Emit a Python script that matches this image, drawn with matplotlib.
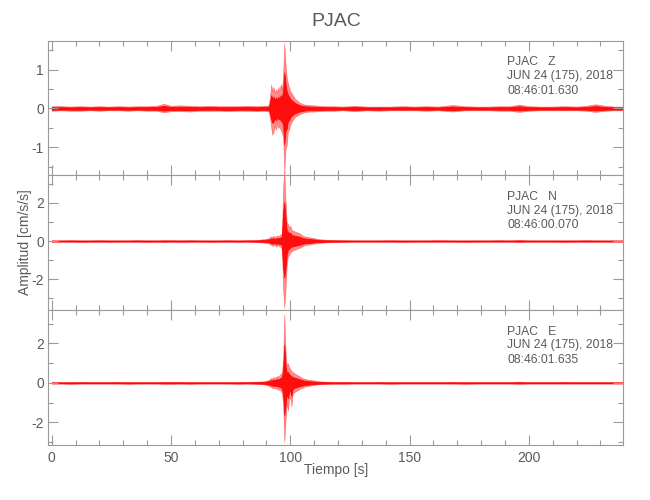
import numpy as np
import matplotlib
matplotlib.use("Agg")
import matplotlib.pyplot as plt
from matplotlib.ticker import MultipleLocator

# --- DATOS (envolvente leida del sismograma) ---
# instantes (s) donde se leyo la envolvente
T_KNOTS = [0, 4, 8, 12, 16, 20, 24, 28, 32, 36, 40, 44, 47, 50, 54, 58, 62, 66, 70, 74, 78, 82, 86, 89,
           91, 91.5, 92, 92.5, 93, 93.5, 94, 94.5, 95, 95.5, 96, 96.5, 97, 97.5, 98, 98.5, 99, 99.5, 100, 100.5, 101,
           102, 103, 104, 105, 106, 108, 110, 112, 115, 118, 122,
           127, 132, 137, 142, 147, 152, 157, 162, 168, 173, 178, 183, 188, 192, 196, 200, 205, 210, 215, 220,
           224, 228, 232, 236, 239.5]

# componente Z (cm/s/s)
Z_HI = [0.06, 0.06, 0.05, 0.06, 0.05, 0.06, 0.05, 0.06, 0.05, 0.06, 0.06, 0.07, 0.12, 0.07, 0.08, 0.07, 0.06, 0.07, 0.06, 0.06, 0.06, 0.07, 0.06, 0.07,
        0.08, 0.30, 0.62, 0.45, 0.55, 0.40, 0.50, 0.42, 0.55, 0.45, 0.62, 0.50, 0.85, 1.68, 1.15, 0.80, 0.65, 0.55, 0.45, 0.40, 0.35,
        0.25, 0.20, 0.15, 0.12, 0.10, 0.09, 0.08, 0.07, 0.06, 0.06, 0.05,
        0.07, 0.05, 0.05, 0.05, 0.06, 0.05, 0.06, 0.05, 0.09, 0.06, 0.05, 0.05, 0.06, 0.06, 0.10, 0.06, 0.05, 0.05, 0.06, 0.05,
        0.07, 0.11, 0.07, 0.05, 0.05]
Z_LO = [-0.06, -0.05, -0.06, -0.06, -0.05, -0.06, -0.05, -0.05, -0.06, -0.05, -0.06, -0.06, -0.10, -0.07, -0.07, -0.08, -0.06, -0.06, -0.06, -0.07, -0.06, -0.06, -0.07, -0.06,
        -0.08, -0.25, -0.50, -0.68, -0.60, -0.45, -0.55, -0.40, -0.50, -0.48, -0.55, -0.62, -0.75, -1.66, -1.05, -0.95, -0.60, -0.55, -0.42, -0.35, -0.30,
        -0.22, -0.18, -0.14, -0.12, -0.10, -0.08, -0.08, -0.07, -0.06, -0.06, -0.05,
        -0.07, -0.05, -0.06, -0.05, -0.05, -0.05, -0.06, -0.05, -0.08, -0.05, -0.05, -0.05, -0.06, -0.06, -0.09, -0.06, -0.05, -0.05, -0.05, -0.05,
        -0.06, -0.09, -0.06, -0.05, -0.05]

# componente N
N_HI = [0.04, 0.04, 0.05, 0.04, 0.04, 0.05, 0.04, 0.04, 0.04, 0.05, 0.04, 0.04, 0.05, 0.05, 0.04, 0.05, 0.04, 0.04, 0.04, 0.05, 0.04, 0.05, 0.06, 0.10,
        0.15, 0.20, 0.25, 0.22, 0.28, 0.20, 0.25, 0.30, 0.25, 0.30, 0.35, 0.40, 2.80, 3.70, 2.20, 1.00, 0.90, 0.70, 0.80, 0.60, 0.55,
        0.50, 0.45, 0.40, 0.30, 0.25, 0.20, 0.15, 0.10, 0.07, 0.06, 0.05,
        0.04, 0.04, 0.04, 0.05, 0.04, 0.04, 0.04, 0.05, 0.04, 0.04, 0.04, 0.04, 0.05, 0.04, 0.06, 0.04, 0.04, 0.04, 0.04, 0.04,
        0.05, 0.04, 0.04, 0.04, 0.04]
N_LO = [-0.04, -0.04, -0.04, -0.05, -0.04, -0.04, -0.05, -0.04, -0.04, -0.04, -0.05, -0.04, -0.05, -0.04, -0.05, -0.04, -0.04, -0.05, -0.04, -0.04, -0.05, -0.04, -0.06, -0.08,
        -0.12, -0.18, -0.20, -0.25, -0.22, -0.20, -0.28, -0.25, -0.22, -0.30, -0.30, -0.45, -2.50, -3.50, -2.60, -1.30, -0.80, -0.75, -0.60, -0.55, -0.50,
        -0.45, -0.40, -0.35, -0.28, -0.22, -0.18, -0.13, -0.10, -0.07, -0.06, -0.05,
        -0.04, -0.04, -0.04, -0.04, -0.05, -0.04, -0.04, -0.04, -0.04, -0.05, -0.04, -0.04, -0.04, -0.04, -0.05, -0.04, -0.04, -0.04, -0.05, -0.04,
        -0.04, -0.04, -0.04, -0.04, -0.04]

# componente E
E_HI = [0.04, 0.04, 0.04, 0.05, 0.04, 0.04, 0.04, 0.05, 0.04, 0.04, 0.04, 0.04, 0.05, 0.05, 0.05, 0.04, 0.04, 0.04, 0.04, 0.04, 0.04, 0.05, 0.06, 0.08,
        0.15, 0.20, 0.25, 0.22, 0.30, 0.25, 0.30, 0.35, 0.30, 0.40, 0.45, 0.50, 1.20, 3.50, 1.60, 0.90, 1.00, 0.80, 0.70, 0.60, 0.55,
        0.45, 0.40, 0.32, 0.25, 0.20, 0.15, 0.12, 0.08, 0.06, 0.05, 0.05,
        0.04, 0.04, 0.05, 0.04, 0.04, 0.04, 0.04, 0.04, 0.05, 0.04, 0.04, 0.04, 0.04, 0.04, 0.06, 0.04, 0.04, 0.04, 0.05, 0.04,
        0.04, 0.04, 0.04, 0.04, 0.04]
E_LO = [-0.04, -0.04, -0.05, -0.04, -0.04, -0.04, -0.04, -0.04, -0.05, -0.04, -0.04, -0.04, -0.05, -0.05, -0.04, -0.05, -0.04, -0.04, -0.04, -0.04, -0.05, -0.04, -0.06, -0.08,
        -0.15, -0.20, -0.22, -0.25, -0.28, -0.25, -0.30, -0.30, -0.35, -0.35, -0.40, -0.55, -1.00, -3.00, -2.00, -1.00, -1.40, -0.85, -0.70, -1.20, -0.55,
        -0.45, -0.38, -0.30, -0.25, -0.20, -0.15, -0.10, -0.08, -0.06, -0.05, -0.05,
        -0.04, -0.04, -0.04, -0.05, -0.04, -0.04, -0.04, -0.04, -0.04, -0.05, -0.04, -0.04, -0.04, -0.04, -0.05, -0.04, -0.04, -0.04, -0.04, -0.04,
        -0.04, -0.04, -0.04, -0.04, -0.04]

COMPONENTES = ["Z", "N", "E"]
HORAS = ["08:46:01.630", "08:46:00.070", "08:46:01.635"]
FECHA = "JUN 24 (175), 2018"
ESTACION = "PJAC"

YLIMS = [(-1.72, 1.74), (-3.63, 3.44), (-3.15, 3.68)]
Y_MAJOR = [1, 2, 2]
Y_MINOR = [0.5, 1, 1]

# --- ESTILO ---
GRIS_TXT = "#5a5a5a"
GRIS_EJE = "#9a9a9a"
plt.rcParams['font.family'] = ['Liberation Sans', 'DejaVu Sans']
plt.rcParams['axes.unicode_minus'] = False

fig = plt.figure(figsize=(6.5, 5), dpi=100)
gs = fig.add_gridspec(3, 1, left=0.074, right=0.959, top=0.9186, bottom=0.11, hspace=0)
axes = [fig.add_subplot(gs[i]) for i in range(3)]

datos = [(Z_HI, Z_LO), (N_HI, N_LO), (E_HI, E_LO)]
t = np.array(T_KNOTS)

for i, ax in enumerate(axes):
    hi, lo = np.array(datos[i][0]), np.array(datos[i][1])
    # envolvente exterior clara y nucleo mas denso
    ax.fill_between(t, lo, hi, color="red", alpha=0.45, lw=0.4, clip_on=False)
    ax.fill_between(t, 0.55 * lo, 0.55 * hi, color="red", alpha=0.9, lw=0.6, clip_on=False)

    ax.set_xlim(-1.5, 239.6)
    ax.set_ylim(*YLIMS[i])
    ax.xaxis.set_major_locator(MultipleLocator(50))
    ax.xaxis.set_minor_locator(MultipleLocator(10))
    ax.yaxis.set_major_locator(MultipleLocator(Y_MAJOR[i]))
    ax.yaxis.set_minor_locator(MultipleLocator(Y_MINOR[i]))
    ax.tick_params(which="both", direction="in", top=True, right=True,
                   color=GRIS_EJE, labelcolor=GRIS_TXT, labelsize=10)
    ax.tick_params(which="major", length=7, width=0.8)
    ax.tick_params(which="minor", length=3.5, width=0.8)
    ax.tick_params(axis="y", pad=3)
    for sp in ax.spines.values():
        sp.set_color(GRIS_EJE)
        sp.set_linewidth(0.8)
    if i < 2:
        ax.tick_params(labelbottom=False)

    ax.text(0.798, 0.84, f"{ESTACION}   {COMPONENTES[i]}", transform=ax.transAxes,
            color=GRIS_TXT, fontsize=8.7, va="center", ha="left")
    ax.text(0.798, 0.74, FECHA, transform=ax.transAxes,
            color=GRIS_TXT, fontsize=8.7, va="center", ha="left")
    ax.text(0.798, 0.63, HORAS[i], transform=ax.transAxes,
            color=GRIS_TXT, fontsize=8.7, va="center", ha="left")

axes[2].tick_params(axis="x", pad=4)

fig.text(0.517, 0.958, ESTACION, color=GRIS_TXT, fontsize=14, ha="center", va="center")
fig.text(0.517, 0.06, "Tiempo [s]", color=GRIS_TXT, fontsize=10, ha="center", va="center")
fig.text(0.038, 0.515, "Amplitud [cm/s/s]", color=GRIS_TXT, fontsize=10,
         ha="center", va="center", rotation=90)

fig.savefig("out.png", dpi=100)
